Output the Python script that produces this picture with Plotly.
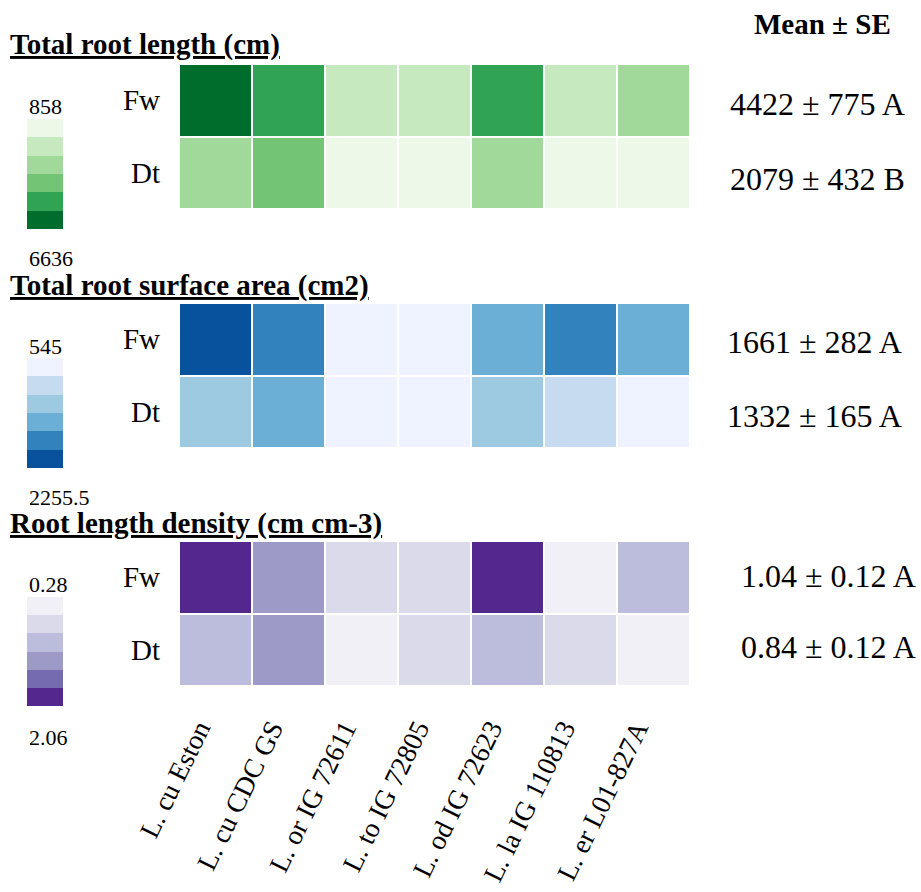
import plotly.graph_objects as go

# ---------------- data ----------------
genotypes = ["L. cu Eston", "L. cu CDC GS", "L. or IG 72611", "L. to IG 72805",
             "L. od IG 72623", "L. la IG 110813", "L. er L01-827A"]
treatments = ["Fw", "Dt"]

length_fw = [6636, 5400, 2500, 2450, 5350, 2550, 3300]
length_dt = [3200, 4100, 858, 1200, 3100, 1300, 1100]
length_range = [858, 6636]
length_stats = ["4422 ± 775 A", "2079 ± 432 B"]

area_fw = [2255.5, 1900, 700, 720, 1600, 1880, 1580]
area_dt = [1300, 1560, 545, 640, 1320, 1000, 600]
area_range = [545, 2255.5]
area_stats = ["1661 ± 282 A", "1332 ± 165 A"]

rld_fw = [2.06, 1.30, 0.72, 0.70, 2.00, 0.45, 1.02]
rld_dt = [1.00, 1.32, 0.28, 0.66, 1.00, 0.68, 0.40]
rld_range = [0.28, 2.06]
rld_stats = ["1.04 ± 0.12 A", "0.84 ± 0.12 A"]

titles = ["Total root length (cm)", "Total root surface area (cm2)",
          "Root length density (cm cm-3)"]
stats_header = "Mean ± SE"

# ---------------- styles ----------------
greens = ["#edf8e9", "#c7e9c0", "#a1d99b", "#74c476", "#31a354", "#006d2c"]
blues = ["#eff3ff", "#c6dbef", "#9ecae1", "#6baed6", "#3182bd", "#08519c"]
purples = ["#f2f0f7", "#dadaeb", "#bcbddc", "#9e9ac8", "#756bb1", "#54278f"]

FONT = "Times New Roman, Liberation Serif, serif"
W, H = 921, 892


def fx(x):
    return x / W


def fy(y):
    return 1 - y / H


def discrete(colors):
    n = len(colors)
    cs = []
    for i, c in enumerate(colors):
        cs.append([i / n, c])
        cs.append([(i + 1) / n, c])
    return cs


panels = [
    dict(fw=length_fw, dt=length_dt, rng=length_range, stats=length_stats, colors=greens),
    dict(fw=area_fw, dt=area_dt, rng=area_range, stats=area_stats, colors=blues),
    dict(fw=rld_fw, dt=rld_dt, rng=rld_range, stats=rld_stats, colors=purples),
]

main_x = (179, 690)
panel_tops = [64, 303, 541]
panel_h = 145
leg_x = (27, 63)
leg_y = [(119, 229), (358, 468), (597, 706)]
title_y = [45, 286, 523]
leg_top_label_y = [106, 346, 584]
leg_bot_label_y = [258, 497, 737]
stats_x = [817, 814, 828]
stats_y = [[104, 179], [342, 416], [576, 647]]
tick_shift = 0.23  # horizontal shift of rotated labels, in category units

fig = go.Figure()
layout = dict(
    width=W, height=H,
    margin=dict(l=0, r=0, t=0, b=0, autoexpand=False),
    paper_bgcolor="white", plot_bgcolor="white",
    font=dict(family=FONT, color="black"),
    showlegend=False,
)
annotations = []

for i, p in enumerate(panels):
    k = i + 1
    lo, hi = p["rng"]
    cs = discrete(p["colors"])
    # main heatmap
    fig.add_trace(go.Heatmap(
        z=[p["fw"], p["dt"]], x=genotypes, y=treatments,
        colorscale=cs, zmin=lo, zmax=hi, showscale=False,
        xgap=2, ygap=2, xaxis=f"x{k}", yaxis=f"y{k}",
        hovertemplate="%{y} | %{x}: %{z}<extra></extra>",
    ))
    top = panel_tops[i]
    layout[f"xaxis{k}"] = dict(
        domain=[fx(main_x[0]), fx(main_x[1])], anchor=f"y{k}",
        showgrid=False, zeroline=False, showline=False, ticks="",
        showticklabels=False, automargin=False,
        categoryorder="array", categoryarray=genotypes,
    )
    layout[f"yaxis{k}"] = dict(
        domain=[fy(top + panel_h), fy(top)], anchor=f"x{k}",
        showgrid=False, zeroline=False, showline=False, ticks="",
        autorange="reversed", tickfont=dict(size=29, family=FONT),
        ticklabelstandoff=18, automargin=False,
    )
    # legend strip
    n = len(p["colors"])
    step = (hi - lo) / n
    leg_vals = [[lo + (j + 0.5) * step] for j in range(n)]
    kl = k + 3
    fig.add_trace(go.Heatmap(
        z=leg_vals, colorscale=cs, zmin=lo, zmax=hi, showscale=False,
        xaxis=f"x{kl}", yaxis=f"y{kl}", hoverinfo="skip",
    ))
    layout[f"xaxis{kl}"] = dict(
        domain=[fx(leg_x[0]), fx(leg_x[1])], anchor=f"y{kl}",
        visible=False, fixedrange=True, automargin=False,
    )
    layout[f"yaxis{kl}"] = dict(
        domain=[fy(leg_y[i][1]), fy(leg_y[i][0])], anchor=f"x{kl}",
        visible=False, autorange="reversed", fixedrange=True, automargin=False,
    )
    # legend labels
    annotations.append(dict(
        text=f"{lo:g}", x=fx(leg_x[0]), y=fy(leg_top_label_y[i]),
        xref="paper", yref="paper", xanchor="left", yanchor="middle",
        showarrow=False, font=dict(size=22, family=FONT)))
    annotations.append(dict(
        text=f"{hi:g}", x=fx(leg_x[0]), y=fy(leg_bot_label_y[i]),
        xref="paper", yref="paper", xanchor="left", yanchor="middle",
        showarrow=False, font=dict(size=22, family=FONT)))
    # panel title
    annotations.append(dict(
        text=f"<b><u>{titles[i]}</u></b>", x=fx(8), y=fy(title_y[i]),
        xref="paper", yref="paper", xanchor="left", yanchor="middle",
        showarrow=False, font=dict(size=29, family=FONT)))
    # mean ± SE
    for r in range(2):
        annotations.append(dict(
            text=p["stats"][r], x=fx(stats_x[i]), y=fy(stats_y[i][r]),
            xref="paper", yref="paper", xanchor="center", yanchor="middle",
            showarrow=False, font=dict(size=32, family=FONT)))

# rotated genotype labels under the bottom panel (overlay axis)
fig.add_trace(go.Scatter(x=[], y=[], xaxis="x7", yaxis="y3", hoverinfo="skip"))
layout["xaxis7"] = dict(
    overlaying="x3", anchor="y3", type="linear",
    range=[-0.5 + tick_shift, len(genotypes) - 0.5 + tick_shift],
    tickvals=list(range(len(genotypes))), ticktext=genotypes,
    tickangle=-64, tickfont=dict(size=27.5, family=FONT), ticklabelstandoff=20,
    showgrid=False, zeroline=False, showline=False, ticks="", automargin=False,
    fixedrange=True, side="bottom",
)

annotations.append(dict(
    text=f"<b>{stats_header}</b>", x=fx(822), y=fy(24),
    xref="paper", yref="paper", xanchor="center", yanchor="middle",
    showarrow=False, font=dict(size=29, family=FONT)))

layout["annotations"] = annotations
fig.update_layout(**layout)
fig.write_html("out.html", config={"displayModeBar": False},
               post_script="document.body.style.margin='0px';")
